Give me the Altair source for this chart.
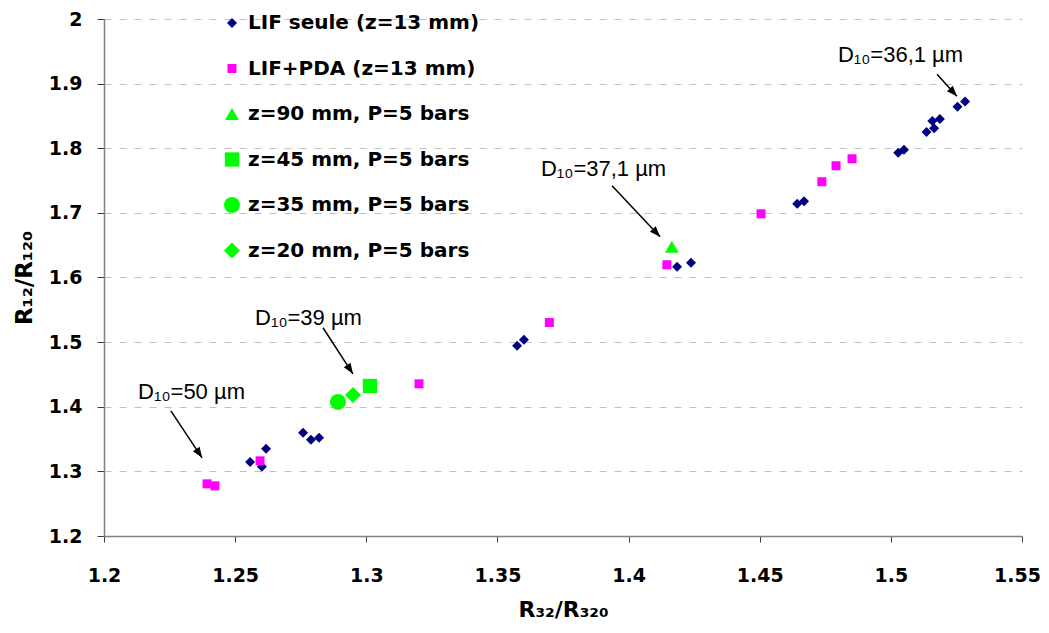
import math
import altair as alt
import pandas as pd

# ---------------- data ----------------
series_order = [
    "LIF seule (z=13 mm)",
    "\u00a0LIF+PDA (z=13 mm)",
    "z=90 mm, P=5 bars",
    "z=45 mm, P=5 bars",
    "z=35 mm, P=5 bars",
    "z=20 mm, P=5 bars",
]

lif_x = [1.2557, 1.2602, 1.2618, 1.2759, 1.2789, 1.2820, 1.3575, 1.3601,
         1.4185, 1.4238, 1.4643, 1.4669, 1.5028, 1.5050, 1.5136, 1.5165,
         1.5158, 1.5187, 1.5254, 1.5283]
lif_y = [1.3147, 1.3070, 1.3349, 1.3597, 1.3488, 1.3519, 1.4943, 1.5036,
         1.6166, 1.6228, 1.7141, 1.7181, 1.7930, 1.7977, 1.8251, 1.8308,
         1.8421, 1.8452, 1.8642, 1.8725]

pda_x = [1.2393, 1.2423, 1.2595, 1.3201, 1.3698, 1.4146, 1.4505, 1.4737, 1.4791, 1.4852]
pda_y = [1.2807, 1.2776, 1.3163, 1.4355, 1.5303, 1.6197, 1.6986, 1.7482, 1.7729, 1.7837]

z90_x, z90_y = [1.4165], [1.6475]
z45_x, z45_y = [1.3014], [1.4321]
z35_x, z35_y = [1.2892], [1.4074]
z20_x, z20_y = [1.2949], [1.4183]

ann_text = ["D\u2081\u2080=50 \u00b5m", "D\u2081\u2080=39 \u00b5m", "D\u2081\u2080=37,1 \u00b5m", "D\u2081\u2080=36,1 \u00b5m"]
ann_x = [1.2130, 1.2576, 1.3666, 1.4798]
ann_y = [1.4235, 1.5376, 1.7683, 1.9447]

arrow_x1 = [1.2255, 1.2835, 1.3937, 1.5176]
arrow_y1 = [1.3937, 1.5222, 1.7420, 1.9144]
arrow_x2 = [1.2374, 1.2949, 1.4120, 1.5252]
arrow_y2 = [1.3210, 1.4510, 1.6631, 1.8804]

x_ticks = [1.2, 1.25, 1.3, 1.35, 1.4, 1.45, 1.5, 1.55]
y_ticks = [1.2, 1.3, 1.4, 1.5, 1.6, 1.7, 1.8, 1.9, 2.0]

# ---------------- build tables ----------------
W, H = 918, 517
XD = [1.2, 1.55]
YD = [1.2, 2.0]

rows = []
for name, xs, ys in [
    (series_order[0], lif_x, lif_y),
    (series_order[1], pda_x, pda_y),
    (series_order[2], z90_x, z90_y),
    (series_order[3], z45_x, z45_y),
    (series_order[4], z35_x, z35_y),
    (series_order[5], z20_x, z20_y),
]:
    for a, b in zip(xs, ys):
        rows.append({"series": name, "x": a, "y": b})
pts = pd.DataFrame(rows)

arr_rows = []
for a1, b1, a2, b2 in zip(arrow_x1, arrow_y1, arrow_x2, arrow_y2):
    dxp = (a2 - a1) * W / (XD[1] - XD[0])
    dyp = -(b2 - b1) * H / (YD[1] - YD[0])
    ang = math.degrees(math.atan2(dxp, -dyp)) % 360
    arr_rows.append({"x1": a1, "y1": b1, "x2": a2, "y2": b2, "angle": ang})
arr = pd.DataFrame(arr_rows)

ann = pd.DataFrame({"t": ann_text, "x": ann_x, "y": ann_y})

xscale = alt.Scale(domain=XD, nice=False, zero=False)
yscale = alt.Scale(domain=YD, nice=False, zero=False)

BOLD = "DejaVu Sans"

x_axis = alt.Axis(values=x_ticks, format=".2~f", title="R\u2083\u2082/R\u2083\u2082\u2080",
                  grid=False, tickSize=6, labelPadding=24, titlePadding=14,
                  labelFont=BOLD, labelFontWeight="bold", labelFontSize=19,
                  titleFont=BOLD, titleFontWeight="bold", titleFontSize=22,
                  labelFlush=False,
                  labelOffset={"condition": {"test": "datum.value >= 1.549", "value": -5}, "value": 0})
y_axis = alt.Axis(values=y_ticks, format=".1~f", title="R\u2081\u2082/R\u2081\u2082\u2080",
                  grid=True, gridDash=[7, 8], gridColor="#c0c0c0", gridWidth=1,
                  tickSize=7, labelPadding=15, titlePadding=12,
                  labelFont=BOLD, labelFontWeight="bold", labelFontSize=19,
                  titleFont=BOLD, titleFontWeight="bold", titleFontSize=23,
                  labelFlush=False)

legend = alt.Legend(title=None, orient="none", legendX=118, legendY=-6,
                    labelFont=BOLD, labelFontWeight="bold", labelFontSize=20,
                    labelColor="black", rowPadding=25.5, labelOffset=6, labelLimit=0,
                    symbolStrokeWidth=0, symbolOpacity=1, padding=0)

points = alt.Chart(pts).mark_point(filled=True, opacity=1, strokeWidth=0).encode(
    x=alt.X("x:Q", scale=xscale, axis=x_axis),
    y=alt.Y("y:Q", scale=yscale, axis=y_axis),
    color=alt.Color("series:N", scale=alt.Scale(domain=series_order,
                    range=["#000080", "#FF00FF", "#00FF00", "#00FF00", "#00FF00", "#00FF00"]),
                    legend=legend),
    shape=alt.Shape("series:N", scale=alt.Scale(domain=series_order,
                    range=["diamond", "square", "triangle-up", "square", "circle", "diamond"]),
                    legend=legend),
    size=alt.Size("series:N", scale=alt.Scale(type="ordinal", domain=series_order,
                  range=[100, 81, 190, 205, 256, 256]),
                  legend=legend),
)

lines = alt.Chart(arr).mark_rule(color="black", strokeWidth=1.5).encode(
    x=alt.X("x1:Q", scale=xscale), y=alt.Y("y1:Q", scale=yscale),
    x2="x2:Q", y2="y2:Q",
)

heads = alt.Chart(arr).mark_point(
    shape="M0,0L-0.38,1L0.38,1Z", filled=True, color="black", opacity=1, size=440, strokeWidth=0
).encode(
    x=alt.X("x2:Q", scale=xscale), y=alt.Y("y2:Q", scale=yscale),
    angle=alt.Angle("angle:Q", scale=None),
)

labels = alt.Chart(ann).mark_text(
    align="left", baseline="middle", font="Liberation Sans", fontSize=22, color="black"
).encode(
    x=alt.X("x:Q", scale=xscale), y=alt.Y("y:Q", scale=yscale), text="t:N",
)

chart = alt.layer(lines, heads, points, labels).properties(
    width=W, height=H,
    autosize=alt.AutoSizeParams(type="none"),
    padding={"left": 96, "top": 11, "right": 19, "bottom": 89},
).configure_view(strokeWidth=0).configure_axis(
    domainColor="#808080", domainWidth=1.5, tickColor="#404040", labelColor="black",
    titleColor="black",
)

chart.save("out.html", embed_options={"renderer": "svg", "actions": False})
